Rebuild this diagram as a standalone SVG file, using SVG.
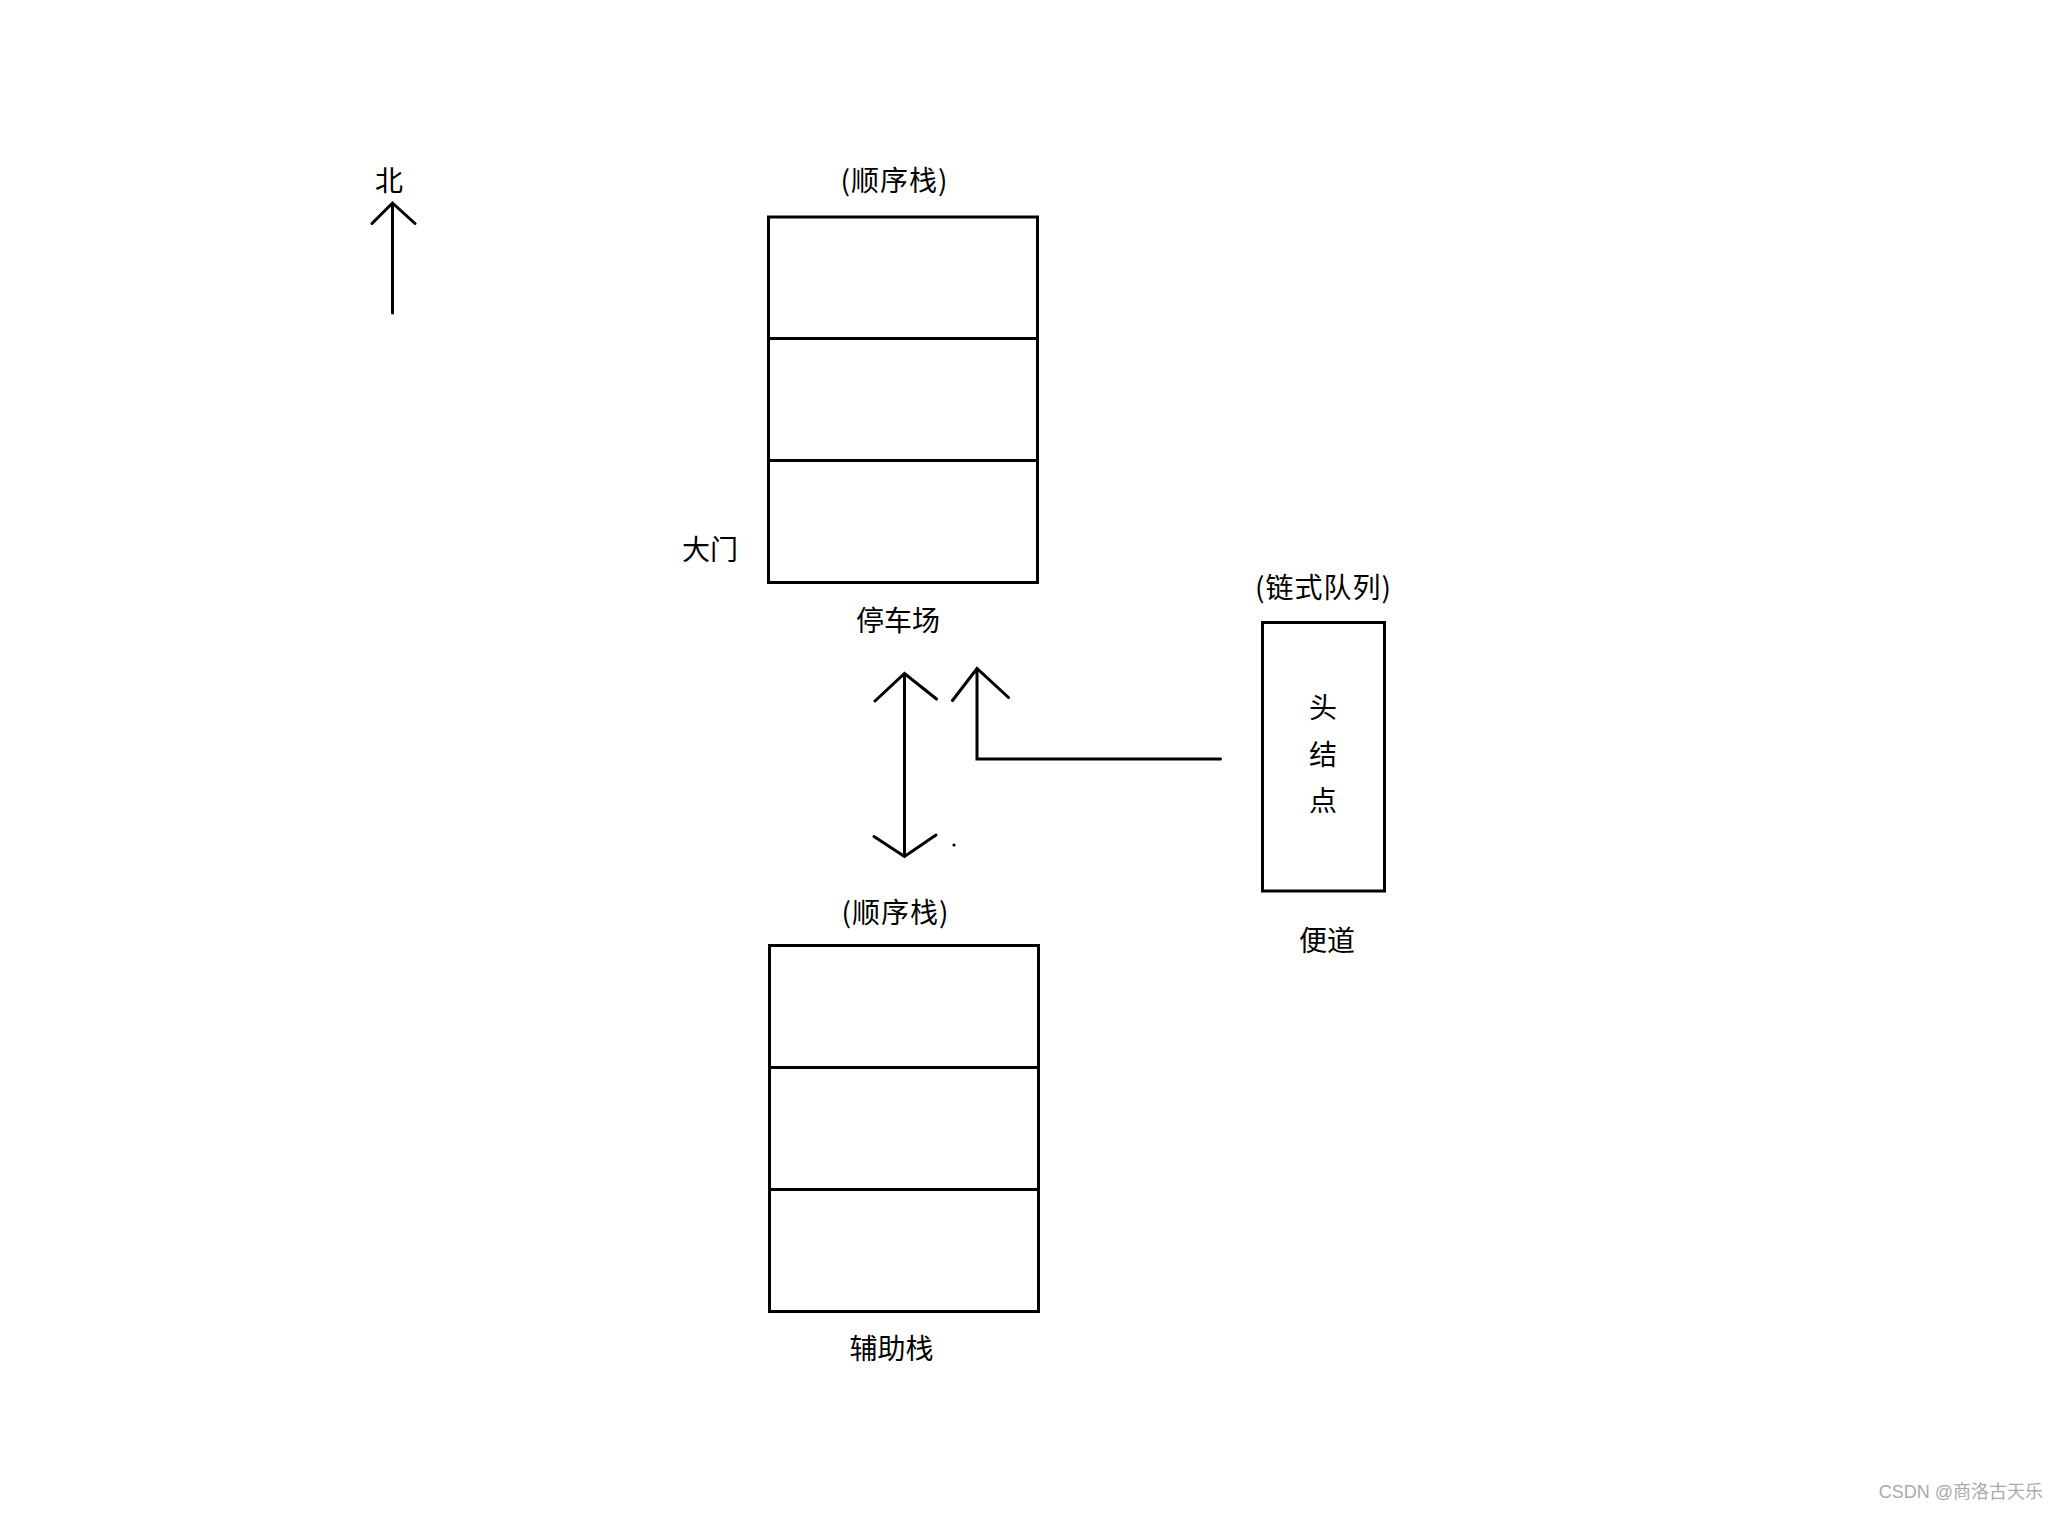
<svg xmlns="http://www.w3.org/2000/svg" width="2064" height="1514" viewBox="0 0 2064 1514">
<style>
.s{fill:none;stroke:#000;stroke-width:3;stroke-linecap:round;stroke-linejoin:miter}
.t{font-family:"Noto Sans CJK SC","Liberation Sans",sans-serif;font-size:28px;fill:#000;text-anchor:middle}
.w{font-family:"Liberation Sans","Noto Sans CJK SC",sans-serif;font-size:18px;fill:#aaa;text-anchor:end}
</style>
<rect width="2064" height="1514" fill="#fff"/>
<g id="north">
<path class="s" d="M392.5 313 V203 M372 223.5 L392.5 203 L415 223.5"/>
<text class="t" x="389" y="191">北</text>
</g>
<g id="parking">
<rect class="s" x="768.5" y="217" width="269" height="365.5"/>
<path class="s" d="M768.5 338.5 H1037.5 M768.5 460.5 H1037.5"/>
<text class="t" x="894.5" y="191" letter-spacing="1">(顺序栈)</text>
<text class="t" x="710" y="560">大门</text>
<text class="t" x="898" y="631">停车场</text>
</g>
<g id="queue">
<rect class="s" x="1262.5" y="622.5" width="122" height="268.5"/>
<text class="t" x="1323.5" y="598" letter-spacing="1">(链式队列)</text>
<text class="t" x="1323" y="718">头</text>
<text class="t" x="1323" y="765">结</text>
<text class="t" x="1323" y="811">点</text>
<text class="t" x="1327" y="951">便道</text>
</g>
<g id="aux">
<rect class="s" x="769.5" y="945.5" width="269" height="366"/>
<path class="s" d="M769.5 1067.5 H1038.5 M769.5 1189.5 H1038.5"/>
<text class="t" x="895.5" y="923" letter-spacing="1">(顺序栈)</text>
<text class="t" x="891.5" y="1359">辅助栈</text>
</g>
<g id="connectors">
<path class="s" d="M904.5 673.5 V856.5 M875 701 L904.5 673.5 L936.5 699 M874 836.5 L904.5 856.5 L936 835"/>
<path class="s" d="M1220.5 759 H977 V668.5 M952.5 700.5 L977 668.5 L1008.5 697.5"/>
<circle cx="954" cy="845" r="1.6" fill="#000"/>
</g>
<text class="w" x="2043" y="1498">CSDN @商洛古天乐</text>
</svg>
